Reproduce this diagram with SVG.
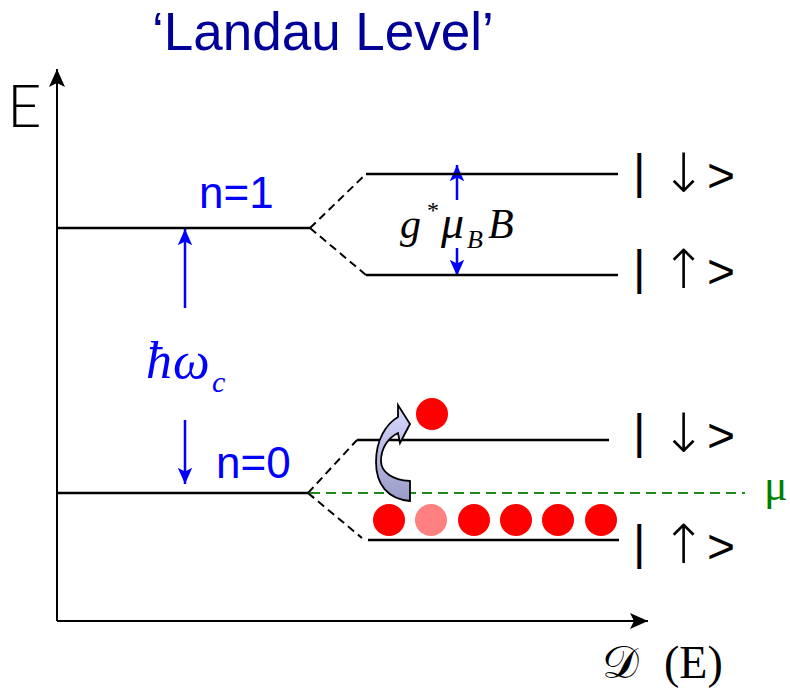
<svg xmlns="http://www.w3.org/2000/svg" width="790" height="694" viewBox="0 0 790 694">
<defs>
  <marker id="axhead" viewBox="0 0 20 20" refX="18" refY="10" markerWidth="20" markerHeight="20" markerUnits="userSpaceOnUse" orient="auto">
    <path d="M0,2 L18,10 L0,18 L4,10 Z" fill="#000"/>
  </marker>
  <marker id="bhead" viewBox="0 0 20 20" refX="18" refY="10" markerWidth="18" markerHeight="18" markerUnits="userSpaceOnUse" orient="auto">
    <path d="M0,2 L18,10 L0,18 L4,10 Z" fill="#0000ff"/>
  </marker>
  <linearGradient id="curv" x1="0" y1="0" x2="0" y2="1">
    <stop offset="0" stop-color="#d8d8ff"/>
    <stop offset="1" stop-color="#9a9ac8"/>
  </linearGradient>
  <style>
    .lvl{stroke:#000;stroke-width:2.5;fill:none}
    .dash{stroke:#000;stroke-width:2;stroke-dasharray:8 5;fill:none}
    .mu{stroke:#1a8a1a;stroke-width:2;stroke-dasharray:10 6;fill:none}
    .axis{stroke:#000;stroke-width:2;fill:none}
    .barr{stroke:#0000ff;stroke-width:2.5;fill:none}
    .sans{font-family:"Liberation Sans",Arial,sans-serif}
    .serif{font-family:"Liberation Serif","Times New Roman",serif}
    .blue{fill:#0000ff}
    .ket{font-family:"Liberation Sans",Arial,sans-serif;font-size:48px;fill:#000}
    .ar{font-family:"DejaVu Sans",sans-serif;font-weight:200;font-size:54px;fill:#000}
    .el{fill:#ff0000}
  </style>
</defs>
<rect width="790" height="694" fill="#fff"/>

<text id="title" class="sans" x="152" y="50" font-size="53" fill="#000099">‘Landau Level’</text>

<g id="axes">
  <line class="axis" x1="57" y1="621" x2="57" y2="69" marker-end="url(#axhead)"/>
  <line class="axis" x1="57" y1="621" x2="648" y2="621" marker-end="url(#axhead)"/>
  <text x="7" y="127" font-family="Lato,'Liberation Sans',sans-serif" font-weight="300" font-size="60" fill="#000">E</text>
  <text class="serif" x="602" y="678" font-size="46" fill="#000">𝒟</text>
  <text class="serif" x="664" y="678" font-size="46" fill="#000">(E)</text>
</g>

<g id="connectors">
  <path class="dash" d="M310,228 L366,174 M310,228 L366,275"/>
  <path class="dash" d="M308,493 L357,440 M308,493 L362,538"/>
  <line class="mu" x1="310" y1="493" x2="745" y2="493"/>
  <line class="barr" x1="185" y1="308" x2="185" y2="229" marker-end="url(#bhead)"/>
  <line class="barr" x1="185" y1="420" x2="185" y2="484" marker-end="url(#bhead)"/>
  <line class="barr" x1="457" y1="200" x2="457" y2="165" marker-end="url(#bhead)"/>
  <line class="barr" x1="457" y1="248" x2="457" y2="276" marker-end="url(#bhead)"/>
</g>

<g id="n1">
  <line class="lvl" x1="57" y1="228" x2="310" y2="228"/>
  <text class="sans blue" x="199" y="208" font-size="44">n=1</text>
</g>
<g id="n1-down">
  <line class="lvl" x1="366" y1="174" x2="618" y2="174"/>
  <text class="ket" x="633" y="188">|</text><text class="ar" x="661" y="192">↓</text><text class="ket" x="707" y="192">&gt;</text>
</g>
<g id="n1-up">
  <line class="lvl" x1="366" y1="275" x2="618" y2="275"/>
  <text class="ket" x="633" y="284">|</text><text class="ar" x="661" y="288">↑</text><text class="ket" x="707" y="288">&gt;</text>
</g>
<g id="zeeman">
  <text class="serif" y="238" font-size="42" font-style="italic" fill="#000"><tspan x="400">g</tspan><tspan x="427" y="218" font-size="24" font-style="normal">*</tspan><tspan x="441" y="238" font-size="46">μ</tspan><tspan x="467" y="248" font-size="26">B</tspan><tspan x="488" y="238">B</tspan></text>
</g>
<g id="cyclotron">
  <text class="serif blue" y="378" font-size="52" font-style="italic"><tspan x="146">ħ</tspan><tspan x="173">ω</tspan><tspan x="212" y="392" font-size="30">c</tspan></text>
</g>

<g id="n0">
  <line class="lvl" x1="57" y1="493" x2="308" y2="493"/>
  <text class="sans blue" x="216" y="478" font-size="44">n=0</text>
</g>
<g id="n0-down">
  <line class="lvl" x1="357" y1="440" x2="609" y2="440"/>
  <text class="ket" x="633" y="448">|</text><text class="ar" x="661" y="452">↓</text><text class="ket" x="707" y="452">&gt;</text>
</g>
<g id="n0-up">
  <line class="lvl" x1="368" y1="540" x2="619" y2="540"/>
  <text class="ket" x="633" y="559">|</text><text class="ar" x="661" y="563">↑</text><text class="ket" x="707" y="563">&gt;</text>
</g>

<g id="chem-pot">
  <text class="serif" x="764" y="500" font-size="44" fill="#008000">μ</text>
</g>

<g id="flip-arrow">
  <path d="M410,501 C388,499 376,485 376,462 C376,440 386,424 398,417 L398,405 L410,424 L400,443 L398,433 C388,438 381,448 381,461 C381,472 392,480 410,481 Z" fill="url(#curv)" stroke="#000" stroke-width="1.8" stroke-linejoin="miter"/>
</g>

<g id="electrons">
  <circle class="el" cx="432" cy="414" r="16"/>
  <circle class="el" cx="389" cy="520" r="16"/>
  <circle cx="431" cy="520" r="16" fill="#ff8080"/>
  <circle class="el" cx="474" cy="520" r="16"/>
  <circle class="el" cx="516" cy="520" r="16"/>
  <circle class="el" cx="558" cy="520" r="16"/>
  <circle class="el" cx="601" cy="520" r="16"/>
</g>
</svg>
